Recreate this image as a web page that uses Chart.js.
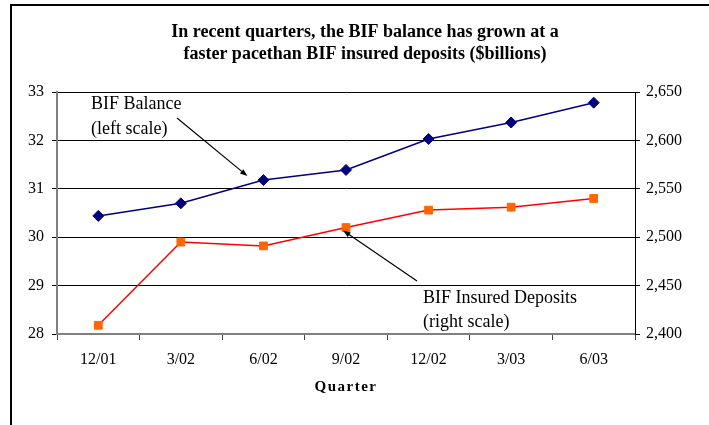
<!DOCTYPE html>
<html>
<head>
<meta charset="utf-8">
<script src="https://cdn.jsdelivr.net/npm/chart.js@4"></script>
<style>
  html, body { margin: 0; padding: 0; background: #fff; }
  #wrap { width: 709px; height: 425px; position: relative; }
</style>
</head>
<body>
<div id="wrap"><canvas id="bifChart" width="709" height="425"></canvas></div>
<script>
// data
const quarters = ["12/01", "3/02", "6/02", "9/02", "12/02", "3/03", "6/03"];
const bifBalance = [30.44, 30.70, 31.18, 31.39, 32.03, 32.37, 32.78];      // left scale
const insuredDeposits = [2409, 2495, 2491, 2510, 2528, 2531, 2540];        // right scale
const titleLines = [
  "In recent quarters, the BIF balance has grown at a",
  "faster pacethan BIF insured deposits ($billions)"
];

const serif = "'Liberation Serif', 'Times New Roman', serif";

function arrow(ctx, x1, y1, x2, y2) {
  const a = Math.atan2(y2 - y1, x2 - x1);
  ctx.beginPath();
  ctx.moveTo(x1, y1);
  ctx.lineTo(x2 - 5 * Math.cos(a), y2 - 5 * Math.sin(a));
  ctx.stroke();
  ctx.beginPath();
  ctx.moveTo(x2, y2);
  ctx.lineTo(x2 - 8 * Math.cos(a - 0.35), y2 - 8 * Math.sin(a - 0.35));
  ctx.lineTo(x2 - 8 * Math.cos(a + 0.35), y2 - 8 * Math.sin(a + 0.35));
  ctx.closePath();
  ctx.fill();
}

// frame, title, callouts and axis title
const decorations = {
  id: "decorations",
  afterDraw(chart) {
    const ctx = chart.ctx;
    const area = chart.chartArea;
    const xs = chart.scales.x;
    const yl = chart.scales.y;
    const yr = chart.scales.y1;
    ctx.save();

    // frame: top and left only
    ctx.strokeStyle = "#000";
    ctx.lineWidth = 2;
    ctx.beginPath();
    ctx.moveTo(709, 5);
    ctx.lineTo(11, 5);
    ctx.lineTo(11, 425);
    ctx.stroke();

    // title
    ctx.fillStyle = "#000";
    ctx.textAlign = "center";
    ctx.textBaseline = "alphabetic";
    ctx.font = "bold 18px " + serif;
    ctx.fillText(titleLines[0], 365, 37);
    ctx.fillText(titleLines[1], 365, 59);

    // axis title
    ctx.font = "bold 15px " + serif;
    ctx.letterSpacing = "1.5px";
    ctx.fillText("Quarter", (area.left + area.right) / 2, 391);
    ctx.letterSpacing = "0px";

    // callouts
    ctx.textAlign = "left";
    ctx.font = "18px " + serif;
    ctx.fillText("BIF Balance", area.left + 34, 109);
    ctx.fillText("(left scale)", area.left + 34, 134);
    ctx.fillText("BIF Insured Deposits", area.left + 366, 303);
    ctx.fillText("(right scale)", area.left + 366, 327);

    ctx.strokeStyle = "#000";
    ctx.lineWidth = 1.2;
    const p1x = xs.getPixelForValue(2), p1y = yl.getPixelForValue(bifBalance[2]);
    arrow(ctx, area.left + 120, 118, p1x - 16, p1y - 4);
    const p2x = xs.getPixelForValue(3), p2y = yr.getPixelForValue(insuredDeposits[3]);
    arrow(ctx, area.left + 360, 281, p2x - 3, p2y + 3);

    ctx.restore();
  }
};

new Chart(document.getElementById("bifChart"), {
  type: "line",
  data: {
    labels: quarters,
    datasets: [
      {
        label: "BIF Insured Deposits",
        data: insuredDeposits,
        yAxisID: "y1",
        borderColor: "#FF0000",
        borderWidth: 1.5,
        pointStyle: "rect",
        pointRadius: 5.5,
        pointBackgroundColor: "#FF6600",
        pointBorderColor: "#FF6600",
        pointBorderWidth: 1,
        tension: 0
      },
      {
        label: "BIF Balance",
        data: bifBalance,
        yAxisID: "y",
        borderColor: "#000080",
        borderWidth: 1.5,
        pointStyle: "rectRot",
        pointRadius: 5.5,
        pointBackgroundColor: "#000080",
        pointBorderColor: "#000080",
        pointBorderWidth: 1,
        tension: 0
      }
    ]
  },
  options: {
    responsive: false,
    animation: false,
    locale: "en-US",
    layout: { padding: { top: 92, left: 0, right: 0, bottom: 0 } },
    plugins: {
      legend: { display: false },
      title: { display: false },
      tooltip: { enabled: false }
    },
    scales: {
      x: {
        type: "category",
        offset: true,
        grid: {
          offset: true,
          drawOnChartArea: false,
          drawTicks: true,
          tickLength: 6,
          color: "#444"
        },
        border: { color: "#808080", width: 2 },
        ticks: {
          color: "#000",
          font: { family: serif, size: 16 },
          padding: 10,
          maxRotation: 0
        },
        afterFit(scale) { scale.height = 91; }
      },
      y: {
        position: "left",
        min: 28,
        max: 33,
        ticks: {
          stepSize: 1,
          color: "#000",
          font: { family: serif, size: 16 },
          padding: 8
        },
        grid: { color: "#000", lineWidth: 1, tickLength: 5 },
        border: { color: "#808080", width: 2 },
        afterFit(scale) { scale.width = 57; }
      },
      y1: {
        position: "right",
        min: 2400,
        max: 2650,
        ticks: {
          stepSize: 50,
          color: "#000",
          font: { family: serif, size: 16 },
          padding: 6
        },
        grid: { drawOnChartArea: false, color: "#000", tickLength: 5 },
        border: { color: "#000", width: 1 },
        afterFit(scale) { scale.width = 74; }
      }
    }
  },
  plugins: [decorations]
});
</script>
</body>
</html>
